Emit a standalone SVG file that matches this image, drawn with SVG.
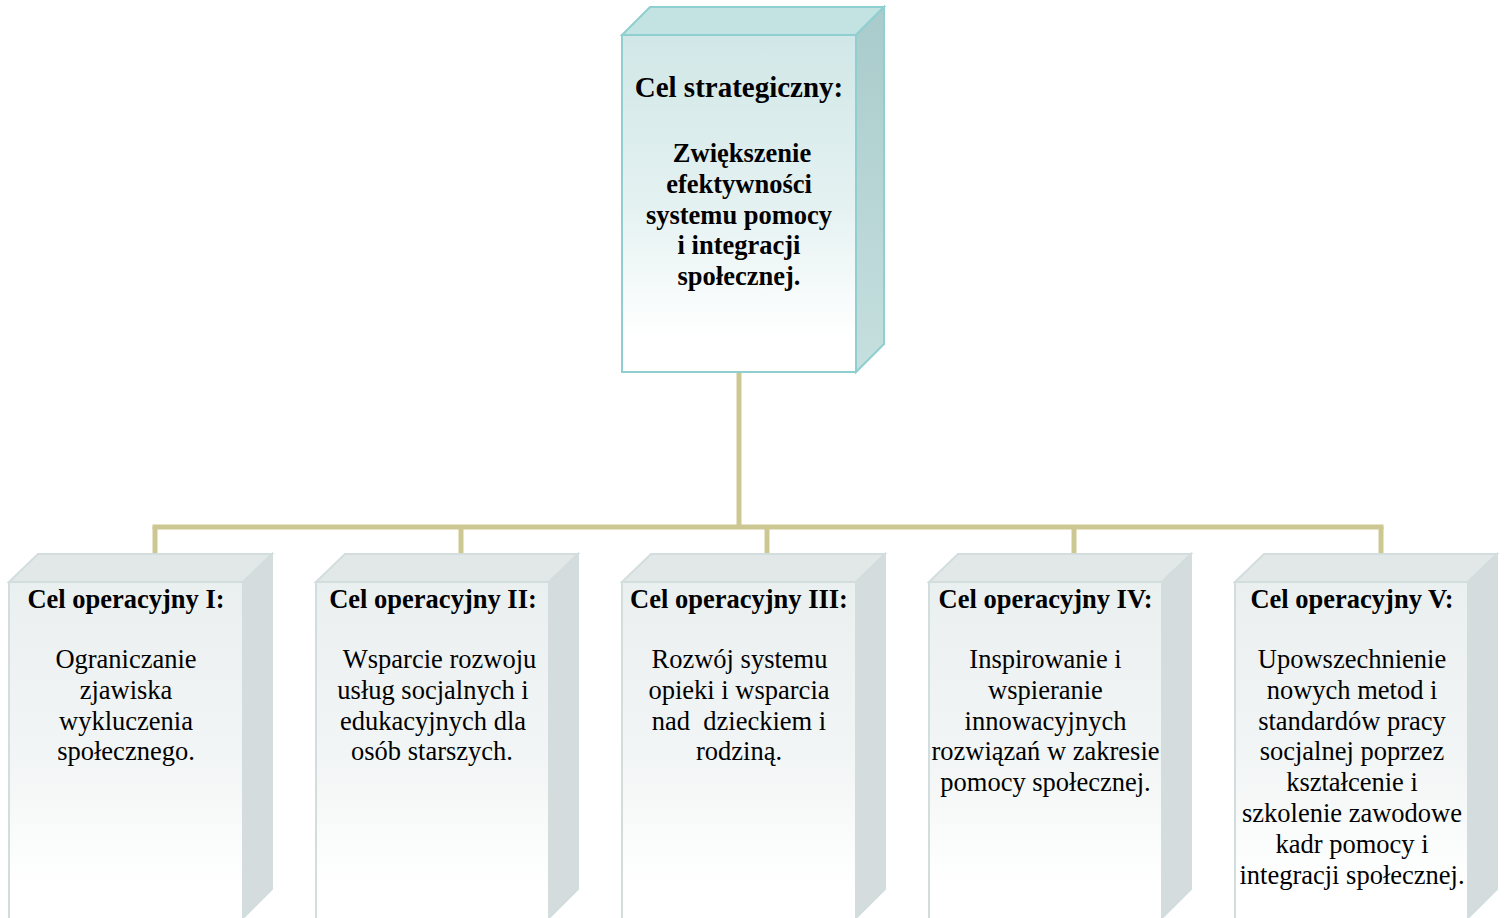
<svg xmlns="http://www.w3.org/2000/svg" width="1504" height="918" viewBox="0 0 1504 918">
<defs>
<linearGradient id="gTop" x1="0" y1="0" x2="0" y2="1">
<stop offset="0" stop-color="#d1e7e7"/>
<stop offset="0.5" stop-color="#e4f1f1"/>
<stop offset="0.9" stop-color="#ffffff"/>
</linearGradient>
<linearGradient id="gOp" x1="0" y1="0" x2="0" y2="1">
<stop offset="0" stop-color="#eaeff0"/>
<stop offset="0.5" stop-color="#f2f5f5"/>
<stop offset="0.9" stop-color="#ffffff"/>
</linearGradient>
<linearGradient id="gTopSide" x1="0" y1="0" x2="0" y2="1">
<stop offset="0" stop-color="#a9cbcb"/>
<stop offset="1" stop-color="#c6dfdf"/>
</linearGradient>
</defs>
<style>
.sFront{fill:url(#gTop);stroke:#8fcfcf;stroke-width:2}
.sTopFace{fill:#c3e2e2;stroke:#8fcfcf;stroke-width:2}
.sSide{fill:url(#gTopSide);stroke:#8fcfcf;stroke-width:2}
.oFront{fill:url(#gOp);stroke:#d3dddd;stroke-width:2}
.oTopFace{fill:#e2e7e8;stroke:#d3dddd;stroke-width:2}
.oSide{fill:#d4dcdd;stroke:#d3dddd;stroke-width:2}
.conn{stroke:#cdc892;stroke-width:5;fill:none}
.t{font-family:"Liberation Serif","Times New Roman",serif;text-anchor:middle;fill:#000}
.h1{font-size:29px;font-weight:bold}
.hb{font-size:26.5px;font-weight:bold}
.h2{font-size:26.5px;font-weight:bold}
.b{font-size:26.5px}
</style>
<g id="connectors">
<line class="conn" x1="739" y1="372" x2="739" y2="527"/>
<line class="conn" x1="152.5" y1="527" x2="1383.5" y2="527"/>
<line class="conn" x1="155" y1="527" x2="155" y2="555"/>
<line class="conn" x1="461" y1="527" x2="461" y2="555"/>
<line class="conn" x1="767" y1="527" x2="767" y2="555"/>
<line class="conn" x1="1074" y1="527" x2="1074" y2="555"/>
<line class="conn" x1="1381" y1="527" x2="1381" y2="555"/>
</g>
<g id="node-strategic">
<polygon class="sTopFace" points="622,35 650,7 884,7 856,35"/>
<polygon class="sSide" points="856,35 884,7 884,344 856,372"/>
<rect class="sFront" x="622" y="35" width="234" height="337"/>
<text class="t h1" x="739" y="97">Cel strategiczny:</text>
<text class="t hb" x="742" y="162">Zwiększenie</text>
<text class="t hb" x="739" y="193">efektywności</text>
<text class="t hb" x="739" y="224">systemu pomocy</text>
<text class="t hb" x="739" y="254">i integracji</text>
<text class="t hb" x="739" y="285">społecznej.</text>
</g>
<g id="node-op1">
<polygon class="oTopFace" points="9,582 38,554 272,554 243,582"/>
<polygon class="oSide" points="243,582 272,554 272,889 243,918"/>
<rect class="oFront" x="9" y="582" width="234" height="340"/>
<text class="t h2" x="126" y="608">Cel operacyjny I:</text>
<text class="t b" x="126" y="668">Ograniczanie</text>
<text class="t b" x="126" y="699">zjawiska</text>
<text class="t b" x="126" y="730">wykluczenia</text>
<text class="t b" x="126" y="760">społecznego.</text>
</g>
<g id="node-op2">
<polygon class="oTopFace" points="316,582 345,554 578,554 549,582"/>
<polygon class="oSide" points="549,582 578,554 578,889 549,918"/>
<rect class="oFront" x="316" y="582" width="233" height="340"/>
<text class="t h2" x="433" y="608">Cel operacyjny II:</text>
<text class="t b" x="439.5" y="668">Wsparcie rozwoju</text>
<text class="t b" x="433" y="699">usług socjalnych i</text>
<text class="t b" x="433" y="730">edukacyjnych dla</text>
<text class="t b" x="432" y="760">osób starszych.</text>
</g>
<g id="node-op3">
<polygon class="oTopFace" points="622,582 651,554 885,554 856,582"/>
<polygon class="oSide" points="856,582 885,554 885,889 856,918"/>
<rect class="oFront" x="622" y="582" width="234" height="340"/>
<text class="t h2" x="739" y="608">Cel operacyjny III:</text>
<text class="t b" x="739.5" y="668">Rozwój systemu</text>
<text class="t b" x="739" y="699">opieki i wsparcia</text>
<text class="t b" x="739" y="730" xml:space="preserve">nad  dzieckiem i</text>
<text class="t b" x="739" y="760">rodziną.</text>
</g>
<g id="node-op4">
<polygon class="oTopFace" points="929,582 958,554 1191,554 1162,582"/>
<polygon class="oSide" points="1162,582 1191,554 1191,889 1162,918"/>
<rect class="oFront" x="929" y="582" width="233" height="340"/>
<text class="t h2" x="1045.5" y="608">Cel operacyjny IV:</text>
<text class="t b" x="1045.5" y="668">Inspirowanie i</text>
<text class="t b" x="1045.5" y="699">wspieranie</text>
<text class="t b" x="1045.5" y="730">innowacyjnych</text>
<text class="t b" x="1045.5" y="760">rozwiązań w zakresie</text>
<text class="t b" x="1045.5" y="791">pomocy społecznej.</text>
</g>
<g id="node-op5">
<polygon class="oTopFace" points="1235,582 1264,554 1497,554 1468,582"/>
<polygon class="oSide" points="1468,582 1497,554 1497,889 1468,918"/>
<rect class="oFront" x="1235" y="582" width="233" height="340"/>
<text class="t h2" x="1352" y="608">Cel operacyjny V:</text>
<text class="t b" x="1352" y="668">Upowszechnienie</text>
<text class="t b" x="1352" y="699">nowych metod i</text>
<text class="t b" x="1352" y="730">standardów pracy</text>
<text class="t b" x="1352" y="760">socjalnej poprzez</text>
<text class="t b" x="1352" y="791">kształcenie i</text>
<text class="t b" x="1352" y="822">szkolenie zawodowe</text>
<text class="t b" x="1352" y="853">kadr pomocy i</text>
<text class="t b" x="1352" y="884">integracji społecznej.</text>
</g>
</svg>
